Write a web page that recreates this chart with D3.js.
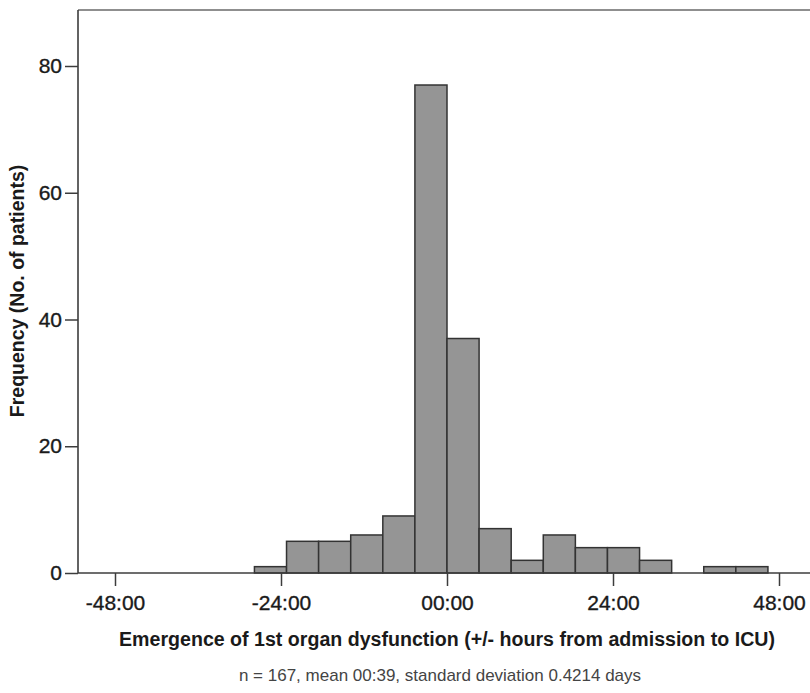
<!DOCTYPE html>
<html>
<head>
<meta charset="utf-8">
<script src="https://cdn.jsdelivr.net/npm/d3@7"></script>
<style>
html,body{margin:0;padding:0;background:#fff;}
svg{display:block;font-family:"Liberation Sans",Arial,sans-serif;}
</style>
</head>
<body>
<svg id="chart" width="810" height="693"></svg>
<script>
// Data: histogram bins (hours relative to ICU admission)
const binWidthHours = 4.64;
const binStarts = [-27.84, -23.2, -18.56, -13.92, -9.28, -4.64, 0, 4.64, 9.28, 13.92, 18.56, 23.2, 27.84, 32.48, 37.12, 41.76];
const counts    = [1, 5, 5, 6, 9, 77, 37, 7, 2, 6, 4, 4, 2, 0, 1, 1];
const xTickValues = [-48, -24, 0, 24, 48];
const xTickLabels = ["-48:00", "-24:00", "00:00", "24:00", "48:00"];
const yTickValues = [0, 20, 40, 60, 80];
const xTitle = "Emergence of 1st organ dysfunction (+/- hours from admission to ICU)";
const yTitle = "Frequency (No. of patients)";
const footnote = "n = 167, mean 00:39, standard deviation 0.4214 days";

const svg = d3.select("#chart");
const plotLeft = 78, plotTop = 10, plotBottom = 573, plotRight = 812;

const x = d3.scaleLinear().domain([-48, 48]).range([115, 779]);
const y = d3.scaleLinear().domain([0, 80]).range([573, 66]);

const axisColor = "#3c3c3c";

// frame (top)
svg.append("line").attr("x1", plotLeft).attr("x2", plotRight).attr("y1", plotTop).attr("y2", plotTop)
  .attr("stroke", "#6a6a6a").attr("stroke-width", 1.5);

// bars
const bins = binStarts.map((s, i) => ({x0: s, x1: s + binWidthHours, n: counts[i]}));
svg.append("g").selectAll("rect").data(bins.filter(d => d.n > 0)).join("rect")
  .attr("x", d => x(d.x0))
  .attr("width", d => x(d.x1) - x(d.x0))
  .attr("y", d => y(d.n))
  .attr("height", d => y(0) - y(d.n))
  .attr("fill", "#959595")
  .attr("stroke", "#333")
  .attr("stroke-width", 1.5);

// x axis
const xAxis = d3.axisBottom(x).tickValues(xTickValues)
  .tickFormat((d, i) => xTickLabels[i]).tickSize(13).tickSizeOuter(0);
const gx = svg.append("g").attr("transform", `translate(0,${plotBottom})`).call(xAxis);
gx.select(".domain").remove();
gx.append("line").attr("x1", plotLeft).attr("x2", plotRight).attr("y1", 0).attr("y2", 0)
  .attr("stroke", axisColor).attr("stroke-width", 1.6);
gx.selectAll(".tick line").attr("stroke", axisColor).attr("stroke-width", 1.5);
gx.selectAll(".tick text").attr("fill", "#1a1a1a").attr("stroke", "#1a1a1a").attr("stroke-width", 0.35)
  .attr("font-size", 21)
  .attr("font-family", "Liberation Sans, Arial, sans-serif").attr("y", 37).attr("dy", 0);

// y axis
const yAxis = d3.axisLeft(y).tickValues(yTickValues).tickSize(13).tickSizeOuter(0);
const gy = svg.append("g").attr("transform", `translate(${plotLeft},0)`).call(yAxis);
gy.select(".domain").remove();
gy.append("line").attr("x1", 0).attr("x2", 0).attr("y1", plotTop).attr("y2", plotBottom)
  .attr("stroke", axisColor).attr("stroke-width", 1.6);
gy.selectAll(".tick line").attr("stroke", axisColor).attr("stroke-width", 1.5);
gy.selectAll(".tick text").attr("fill", "#1a1a1a").attr("stroke", "#1a1a1a").attr("stroke-width", 0.35)
  .attr("font-size", 21)
  .attr("font-family", "Liberation Sans, Arial, sans-serif").attr("x", -16);

// axis titles
svg.append("text").attr("x", 447).attr("y", 646).attr("text-anchor", "middle")
  .attr("font-size", 19.6).attr("font-weight", "bold").attr("fill", "#1a1a1a").text(xTitle);
svg.append("text").attr("transform", "translate(24,291) rotate(-90)").attr("text-anchor", "middle")
  .attr("font-size", 19.5).attr("font-weight", "bold").attr("fill", "#1a1a1a").text(yTitle);

// footnote
svg.append("text").attr("x", 440).attr("y", 681).attr("text-anchor", "middle")
  .attr("font-size", 17).attr("fill", "#444").text(footnote);
</script>
</body>
</html>
